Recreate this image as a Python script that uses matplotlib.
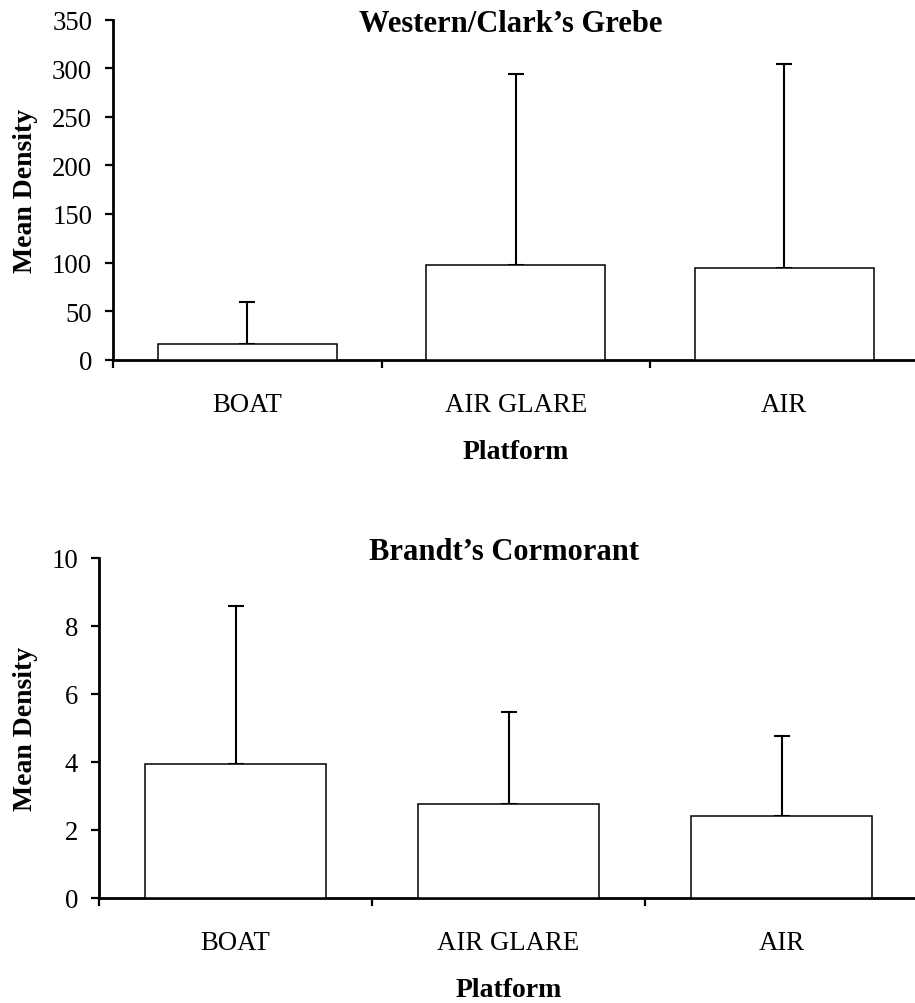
import matplotlib.pyplot as plt

plt.rcParams['font.family'] = ['Liberation Serif', 'DejaVu Serif']

platforms = ['BOAT', 'AIR GLARE', 'AIR']

grebe_mean = [15.8, 97.8, 94.1]
grebe_err = [43.6, 196.4, 210.4]

cormorant_mean = [3.92, 2.75, 2.39]
cormorant_err = [4.66, 2.72, 2.37]

W, H = 915, 1004
fig = plt.figure(figsize=(W / 100, H / 100), dpi=100)


def make_panel(rect, means, errs, ymax, ystep, title, title_base):
    ax = fig.add_axes(rect)
    x = range(len(platforms))
    ax.bar(x, means, width=0.665, color='white', edgecolor='black',
           linewidth=1.1, zorder=3)
    ax.errorbar(x, means, yerr=[[0] * len(errs), errs], fmt='none',
                ecolor='black', elinewidth=1.5, capsize=5.8, capthick=1.5,
                zorder=2)
    ax.set_xlim(-0.5, len(platforms) - 0.5)
    ax.set_ylim(0, ymax)
    ax.set_yticks(range(0, ymax + 1, ystep))
    ax.set_xticks(list(x))
    ax.set_xticklabels(platforms)
    ax.set_xticks([i - 0.5 for i in range(len(platforms) + 1)], minor=True)
    ax.tick_params(axis='x', which='major', length=0, pad=23, labelsize=19.3)
    ax.tick_params(axis='x', which='minor', length=6, width=1.6,
                   direction='out')
    ax.tick_params(axis='y', length=6, width=1.6, direction='out', pad=9,
                   labelsize=19.3)
    for s in ['top', 'right']:
        ax.spines[s].set_visible(False)
    for s in ['left', 'bottom']:
        ax.spines[s].set_linewidth(2.0)
    ax.set_xlabel('Platform', fontsize=20, fontweight='bold', labelpad=16)
    ax.set_ylabel('Mean Density', fontsize=20, fontweight='bold')
    ax.yaxis.set_label_coords(-(rect[0] * W - 38) / (rect[2] * W), 0.5)
    fig.text(0.5 * (rect[0] * 2 + rect[2]) - 0.005, 1 - title_base / H, title,
             fontsize=22, fontweight='bold', ha='center', va='baseline')
    return ax


make_panel([113 / W, 1 - 360.7 / H, (918.5 - 113) / W, 340 / H],
           grebe_mean, grebe_err, 350, 50, 'Western/Clark\u2019s Grebe', 32)
make_panel([99 / W, 1 - 898.7 / H, (918 - 99) / W, 340 / H],
           cormorant_mean, cormorant_err, 10, 2, 'Brandt\u2019s Cormorant', 560)

fig.savefig('out.png', dpi=100)
